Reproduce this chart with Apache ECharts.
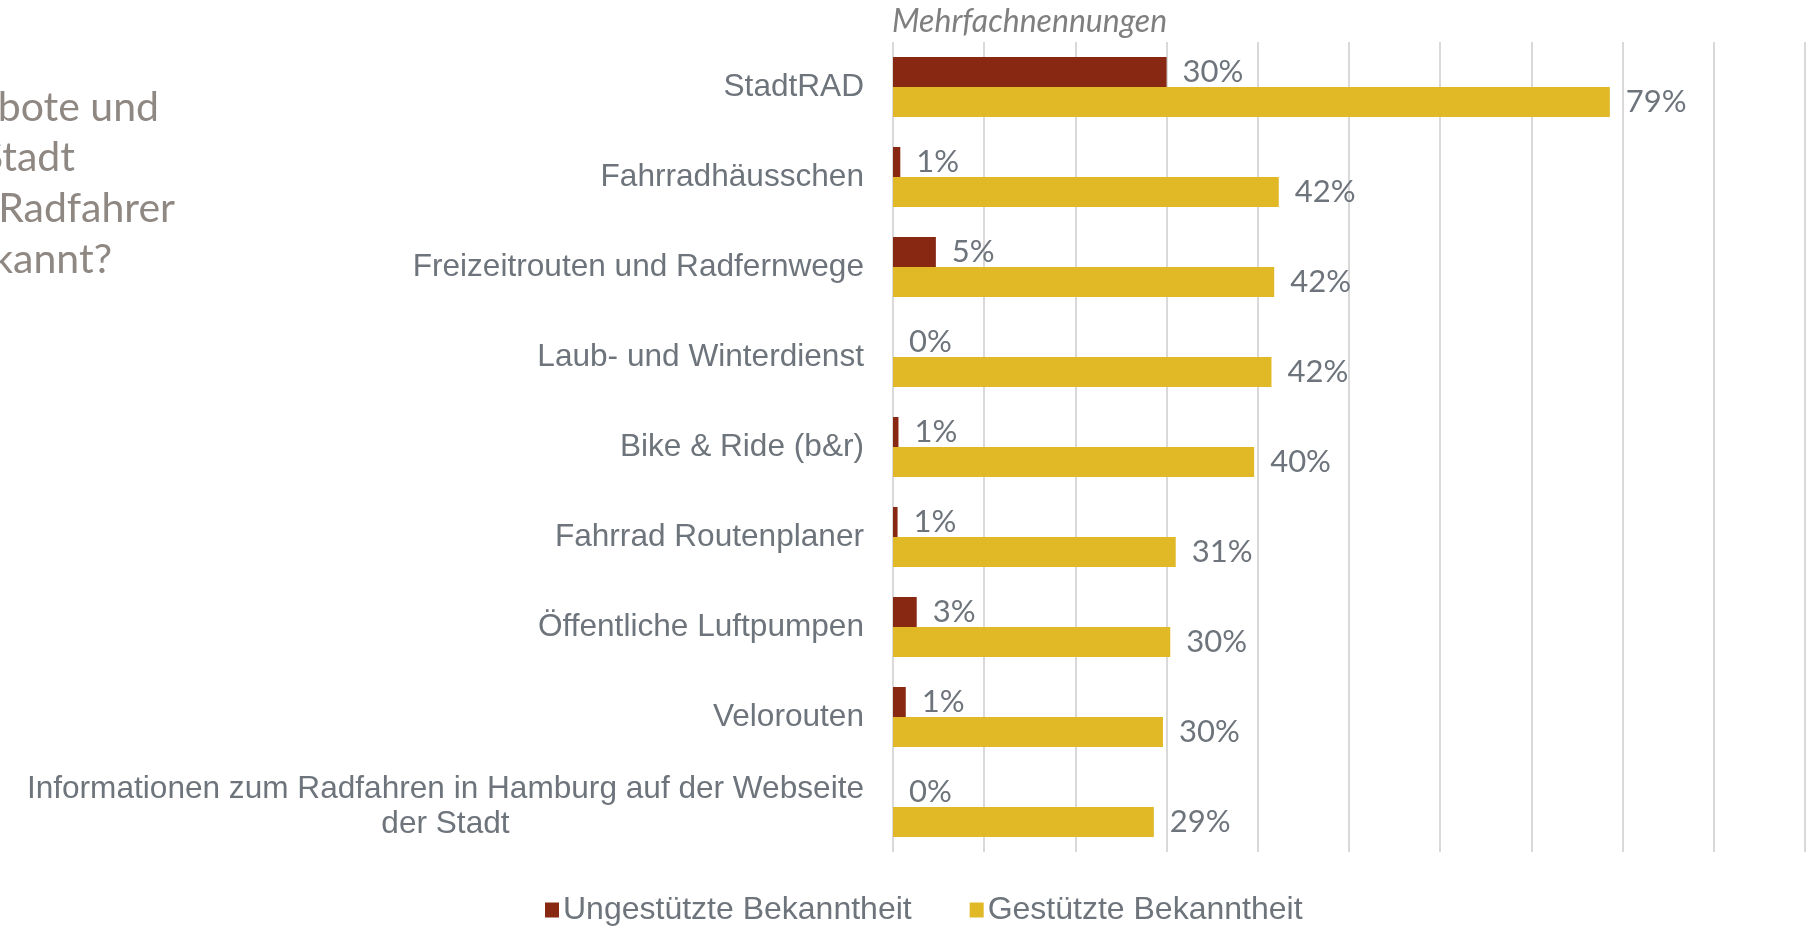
<!DOCTYPE html>
<html>
<head>
<meta charset="utf-8">
<script src="https://cdn.jsdelivr.net/npm/echarts@6/dist/echarts.min.js"></script>
<style>
html,body{margin:0;padding:0;background:#fff;}
#main{width:1817px;height:926px;}
</style>
</head>
<body>
<div id="main"></div>
<script>
// Kategorien (von oben nach unten)
var categories = [
	'StadtRAD',
	'Fahrradhäusschen',
	'Freizeitrouten und Radfernwege',
	'Laub- und Winterdienst',
	'Bike & Ride (b&r)',
	'Fahrrad Routenplaner',
	'Öffentliche Luftpumpen',
	'Velorouten',
	'Informationen zum Radfahren in Hamburg auf der Webseite\nder Stadt'
];
var seriesNames = ['Ungestützte Bekanntheit', 'Gestützte Bekanntheit'];
var ungestuetzt = [30, 0.8, 4.7, 0, 0.6, 0.5, 2.6, 1.4, 0];
var gestuetzt = [78.6, 42.3, 41.8, 41.5, 39.6, 31.0, 30.4, 29.6, 28.6];
var xTicks = [0, 10, 20, 30, 40, 50, 60, 70, 80, 90, 100];
var titleLines = ['Welche Angebote und', 'Services der Stadt', 'sind Ihnen als Radfahrer', 'bekannt?'];

var labelColor = '#6e747b';
var catFont = '"Liberation Sans", Arial, sans-serif';

function drawChart(){
	var myChart = echarts.init(document.getElementById('main'));

	// linker Titel, am Rand abgeschnitten
	var titleEnds = [159, 75, 175, 112];
	var titleY = [108, 158, 209, 260];
	var graphics = [];
	for (var i = 0; i < titleLines.length; i++) {
		graphics.push({
			type: 'text',
			x: titleEnds[i],
			y: titleY[i],
			style: {
				text: titleLines[i],
				align: 'right',
				verticalAlign: 'middle',
				fill: '#8f8782',
				font: '41px Lato, sans-serif'
			}
		});
	}
	graphics.push({
		type: 'text',
		x: 892,
		y: 22,
		style: {
			text: 'Mehrfachnennungen',
			verticalAlign: 'middle',
			fill: '#7f7f7f',
			font: 'italic 32px Lato, sans-serif'
		}
	});

	var barLabel = {
		show: true,
		position: 'right',
		distance: 16,
		color: labelColor,
		fontFamily: 'Lato, sans-serif',
		fontSize: 31,
		formatter: function(p){ return Math.round(p.value) + '%'; }
	};

	var option = {
		animation: false,
		backgroundColor: '#fff',
		graphic: graphics,
		legend: {
			left: 540,
			top: 889,
			itemWidth: 14,
			itemHeight: 15,
			itemGap: 58,
			icon: 'rect',
			textStyle: { color: labelColor, fontFamily: catFont, fontSize: 32, padding: [0, 0, 0, -1] },
			data: seriesNames
		},
		grid: {
			left: 893,
			right: 12,
			top: 42,
			bottom: 74
		},
		xAxis: {
			type: 'value',
			min: xTicks[0],
			max: xTicks[xTicks.length - 1],
			interval: 10,
			axisLine: { show: false },
			axisTick: { show: false },
			axisLabel: { show: false },
			splitLine: { show: true, lineStyle: { color: '#d9d9d9', width: 2 } }
		},
		yAxis: {
			type: 'category',
			inverse: true,
			data: categories,
			axisLine: { show: false },
			axisTick: { show: false },
			axisLabel: {
				margin: 29,
				align: 'right',
				color: labelColor,
				fontFamily: catFont,
				fontSize: 31.6,
				lineHeight: 35,
				formatter: function(v){
					return v.split('\n').map(function(s){ return '{c|' + s + '}'; }).join('\n');
				},
				rich: {
					c: { align: 'center', color: labelColor, fontFamily: catFont, fontSize: 31.6, lineHeight: 35 }
				}
			}
		},
		series: [
			{
				name: seriesNames[0],
				type: 'bar',
				barWidth: 30,
				barGap: '0%',
				itemStyle: { color: '#882712' },
				label: barLabel,
				data: ungestuetzt
			},
			{
				name: seriesNames[1],
				type: 'bar',
				barWidth: 30,
				barGap: '0%',
				itemStyle: { color: '#e1b825' },
				label: barLabel,
				data: gestuetzt
			}
		]
	};
	myChart.setOption(option);
}

drawChart();
</script>
</body>
</html>
